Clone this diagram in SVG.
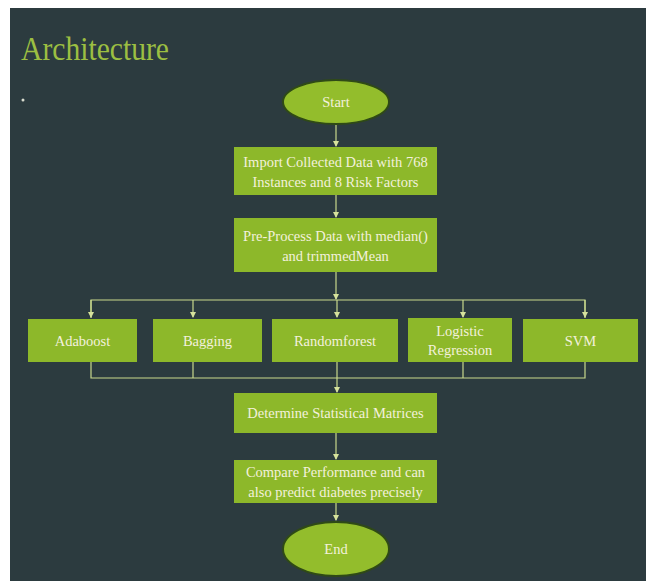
<svg xmlns="http://www.w3.org/2000/svg" width="654" height="581" viewBox="0 0 654 581">
  <defs>
    <style>
      .box { fill: #8db82a; }
      .oval { fill: #93bd2c; stroke: #2f4a16; stroke-width: 2; }
      .lbl { font-family: "Liberation Serif", "Times New Roman", serif; font-size: 14.5px; fill: #f3f1dc; text-anchor: middle; }
      .wire { fill: none; stroke: #c9d98c; stroke-width: 1.2; }
      .title { font-family: "Liberation Serif", "Times New Roman", serif; font-size: 33px; fill: #9cbf42; }
    </style>
    <marker id="arr" viewBox="0 0 6 6" refX="5" refY="3" markerWidth="5" markerHeight="5" orient="auto">
      <path d="M0,0 L6,3 L0,6 Z" fill="#d6e29c"/>
    </marker>
  </defs>

  <!-- page and slide background -->
  <rect x="0" y="0" width="654" height="581" fill="#ffffff"/>
  <rect x="10" y="8" width="636" height="573" fill="#2c3b3f"/>

  <text class="title" x="21" y="60" textLength="148" lengthAdjust="spacingAndGlyphs">Architecture</text>
  <circle cx="23" cy="100" r="1.5" fill="#d8dccf"/>

  <!-- connectors -->
  <g id="connectors">
    <line class="wire" x1="336" y1="124" x2="336" y2="146" marker-end="url(#arr)"/>
    <line class="wire" x1="336" y1="195" x2="336" y2="217" marker-end="url(#arr)"/>
    <line class="wire" x1="336" y1="272" x2="336" y2="299" marker-end="url(#arr)"/>
    <polyline class="wire" points="91,318 91,300 585,300 585,318"/>
    <line class="wire" x1="91" y1="300" x2="91" y2="317" marker-end="url(#arr)"/>
    <line class="wire" x1="193" y1="300" x2="193" y2="317" marker-end="url(#arr)"/>
    <line class="wire" x1="337" y1="300" x2="337" y2="317" marker-end="url(#arr)"/>
    <line class="wire" x1="463" y1="300" x2="463" y2="317" marker-end="url(#arr)"/>
    <line class="wire" x1="585" y1="300" x2="585" y2="317" marker-end="url(#arr)"/>
    <polyline class="wire" points="91,362 91,378 585,378 585,362"/>
    <line class="wire" x1="193" y1="362" x2="193" y2="378"/>
    <line class="wire" x1="337" y1="362" x2="337" y2="378"/>
    <line class="wire" x1="463" y1="362" x2="463" y2="378"/>
    <line class="wire" x1="337" y1="378" x2="337" y2="392" marker-end="url(#arr)"/>
    <line class="wire" x1="336" y1="433" x2="336" y2="459" marker-end="url(#arr)"/>
    <line class="wire" x1="336" y1="503" x2="336" y2="520" marker-end="url(#arr)"/>
  </g>

  <g id="start">
    <ellipse class="oval" cx="336" cy="102" rx="53" ry="22"/>
    <text class="lbl" x="336" y="107">Start</text>
  </g>

  <g id="import">
    <rect class="box" x="234" y="147" width="203" height="48"/>
    <text class="lbl" x="335.5" y="167">Import Collected Data with 768</text>
    <text class="lbl" x="335.5" y="187">Instances and 8 Risk Factors</text>
  </g>

  <g id="preprocess">
    <rect class="box" x="234" y="218" width="203" height="54"/>
    <text class="lbl" x="335.5" y="241">Pre-Process Data with median()</text>
    <text class="lbl" x="335.5" y="261">and trimmedMean</text>
  </g>

  <g id="adaboost">
    <rect class="box" x="28" y="319" width="109" height="43"/>
    <text class="lbl" x="82.5" y="346">Adaboost</text>
  </g>

  <g id="bagging">
    <rect class="box" x="153" y="319" width="109" height="43"/>
    <text class="lbl" x="207.5" y="346">Bagging</text>
  </g>

  <g id="randomforest">
    <rect class="box" x="272" y="319" width="126" height="43"/>
    <text class="lbl" x="335" y="346">Randomforest</text>
  </g>

  <g id="logistic">
    <rect class="box" x="408" y="318" width="104" height="44"/>
    <text class="lbl" x="460" y="336">Logistic</text>
    <text class="lbl" x="460" y="355">Regression</text>
  </g>

  <g id="svm">
    <rect class="box" x="523" y="319" width="115" height="43"/>
    <text class="lbl" x="580.5" y="346">SVM</text>
  </g>

  <g id="metrics">
    <rect class="box" x="234" y="393" width="203" height="40"/>
    <text class="lbl" x="335.5" y="418">Determine Statistical Matrices</text>
  </g>

  <g id="compare">
    <rect class="box" x="234" y="460" width="203" height="43"/>
    <text class="lbl" x="335.5" y="477">Compare Performance and can</text>
    <text class="lbl" x="335.5" y="497">also predict diabetes precisely</text>
  </g>

  <g id="end">
    <ellipse class="oval" cx="336" cy="549" rx="53" ry="27"/>
    <text class="lbl" x="336" y="554">End</text>
  </g>
</svg>
